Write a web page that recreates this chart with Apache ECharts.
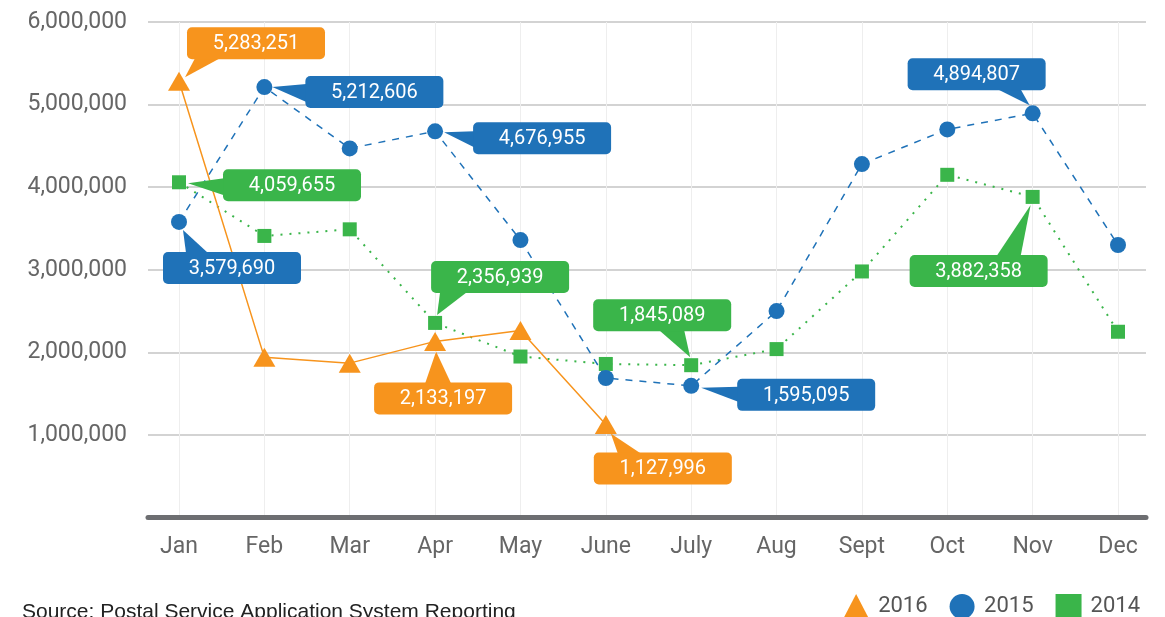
<!DOCTYPE html>
<html><head><meta charset="utf-8">
<script src="https://cdn.jsdelivr.net/npm/echarts@6/dist/echarts.min.js"></script>
<style>html,body{margin:0;padding:0;background:#fff;} #c{width:1165px;height:617px;}</style>
</head><body><div id="c"></div>
<script>
// ---- data ----
const months = ['Jan','Feb','Mar','Apr','May','June','July','Aug','Sept','Oct','Nov','Dec'];
const seriesNames = ['2016','2015','2014'];
const s2016 = [5283251, 1940000, 1870000, 2133197, 2265000, 1127996];
const s2015 = [3579690, 5212606, 4470000, 4676955, 3360000, 1690000, 1595095, 2500000, 4280000, 4700000, 4894807, 3300000];
const s2014 = [4059655, 3410000, 3490000, 2356939, 1950000, 1860000, 1845089, 2040000, 2980000, 4150000, 3882358, 2250000];
const yTicks = [0, 1000000, 2000000, 3000000, 4000000, 5000000, 6000000];
const sourceText = 'Source: Postal Service Application System Reporting';
// labelled points (series index, month index)
const calloutSeries = [0, 1, 1, 2, 1, 2, 0, 2, 1, 0, 1, 2];
const calloutMonth  = [0, 1, 3, 0, 0, 3, 3, 6, 6, 5, 10, 10];

// ---- presentation ----
const colors = ['#F7941D', '#1F72B8', '#3AB54A'];
const allSeries = [s2016, s2015, s2014];
// callout placement relative to the point (pixels)
const placement = [
  {bx: 8,    by: -54, side: 'bottom', b: [8, 33],  t: [6, -4]},
  {bx: 41,   by: -11, side: 'left',   b: [8, 26],  t: [8, 0]},
  {bx: 38,   by: -9,  side: 'left',   b: [9, 25],  t: [9, 1]},
  {bx: 44,   by: -13, side: 'left',   b: [9, 26],  t: [9, 1]},
  {bx: -16,  by: 30,  side: 'top',    b: [23, 45], t: [4, 8]},
  {bx: -4,   by: -62, side: 'bottom', b: [9, 36],  t: [2, -8]},
  {bx: -61,  by: 41,  side: 'top',    b: [51, 77], t: [1, 10]},
  {bx: -98,  by: -66, side: 'bottom', b: [66, 91], t: [-1, -8]},
  {bx: 46,   by: -7,  side: 'left',   b: [8, 23],  t: [10, 2]},
  {bx: -12,  by: 28,  side: 'top',    b: [24, 47], t: [5, 9]},
  {bx: -125, by: -55, side: 'bottom', b: [90, 113],t: [-3, -8]},
  {bx: -123, by: 58,  side: 'top',    b: [87, 111],t: [-2, 8]}
];
const BW = 138, BH = 32;
function fmt(v) { return String(Math.round(v)).replace(/\B(?=(\d{3})+(?!\d))/g, ','); }
function pairs(arr) { return arr.map((v, i) => [i, v]); }

const calloutData = calloutSeries.map((s, k) => [calloutMonth[k], allSeries[s][calloutMonth[k]]]);

const chart = echarts.init(document.getElementById('c'), null, {renderer: 'canvas'});
const axisFont = 'Roboto';
chart.setOption({
  animation: false,
  backgroundColor: '#fff',
  grid: {left: 148, right: 19, top: 22, bottom: 99.4, containLabel: false},
  xAxis: {
    type: 'value', min: -0.3632, max: 11.328,
    axisLine: {show: true, onZero: false, lineStyle: {color: '#6D6E71', width: 5}},
    axisTick: {show: false, customValues: months.map((m, i) => i)},
    axisLabel: {customValues: months.map((m, i) => i), formatter: v => months[Math.round(v)] || '',
      color: '#666', fontSize: 23, fontFamily: axisFont, margin: 18},
    splitLine: {show: true, lineStyle: {color: '#EEEEEE', width: 1}}
  },
  yAxis: {
    type: 'value', min: yTicks[0], max: yTicks[yTicks.length - 1], interval: yTicks[1] - yTicks[0],
    axisLine: {show: false}, axisTick: {show: false},
    axisLabel: {showMinLabel: false, formatter: v => (v === 0 ? '' : fmt(v)), color: '#666', fontSize: 23, fontFamily: axisFont, margin: 21},
    splitLine: {lineStyle: {color: '#C4C4C4', width: 1.5}}
  },
  legend: {
    right: 20, top: 589, itemWidth: 26, itemHeight: 25, itemGap: 22,
    textStyle: {fontSize: 22, color: '#555', fontFamily: axisFont, padding: [0, 0, 0, 4]},
    data: [{name: seriesNames[0], icon: 'triangle'}, {name: seriesNames[1], icon: 'circle'}, {name: seriesNames[2], icon: 'rect'}]
  },
  graphic: [{type: 'text', left: 22, top: 602, style: {text: sourceText, font: '21px "Liberation Sans"', fill: '#222'}}],
  series: [
    {name: seriesNames[2], type: 'line', data: pairs(s2014), color: colors[2], symbol: 'rect', symbolSize: 14,
     lineStyle: {color: colors[2], width: 2, type: [2, 7]}, itemStyle: {color: colors[2]}, z: 3},
    {name: seriesNames[1], type: 'line', data: pairs(s2015), color: colors[1], symbol: 'circle', symbolSize: 16,
     lineStyle: {color: colors[1], width: 1.5, type: [7, 7]}, itemStyle: {color: colors[1]}, z: 4},
    {name: seriesNames[0], type: 'line', data: pairs(s2016), color: colors[0], symbol: 'triangle', symbolSize: [22, 19],
     lineStyle: {color: colors[0], width: 1.5}, itemStyle: {color: colors[0]}, z: 5},
    {name: 'callouts', type: 'custom', data: calloutData, z: 10, clip: false, silent: true,
     encode: {x: 0, y: 1},
     renderItem: function (params, api) {
       const k = params.dataIndex;
       const pl = placement[k];
       const col = colors[calloutSeries[k]];
       const p = api.coord([api.value(0), api.value(1)]);
       const x0 = p[0] + pl.bx, y0 = p[1] + pl.by;
       let b1, b2;
       if (pl.side === 'bottom') { b1 = [x0 + pl.b[0], y0 + BH - 1]; b2 = [x0 + pl.b[1], y0 + BH - 1]; }
       else if (pl.side === 'top') { b1 = [x0 + pl.b[0], y0 + 1]; b2 = [x0 + pl.b[1], y0 + 1]; }
       else { b1 = [x0 + 1, y0 + pl.b[0]]; b2 = [x0 + 1, y0 + pl.b[1]]; }
       const tip = [p[0] + pl.t[0], p[1] + pl.t[1]];
       return {type: 'group', children: [
         {type: 'polygon', shape: {points: [tip, b1, b2]}, style: {fill: col}},
         {type: 'rect', shape: {x: x0, y: y0, width: BW, height: BH, r: 5}, style: {fill: col}},
         {type: 'text', style: {text: fmt(api.value(1)), x: x0 + BW / 2, y: y0 + BH / 2 + 1, fill: '#fff',
           font: '20px Roboto', align: 'center', verticalAlign: 'middle'}}
       ]};
     }}
  ]
});
</script></body></html>
